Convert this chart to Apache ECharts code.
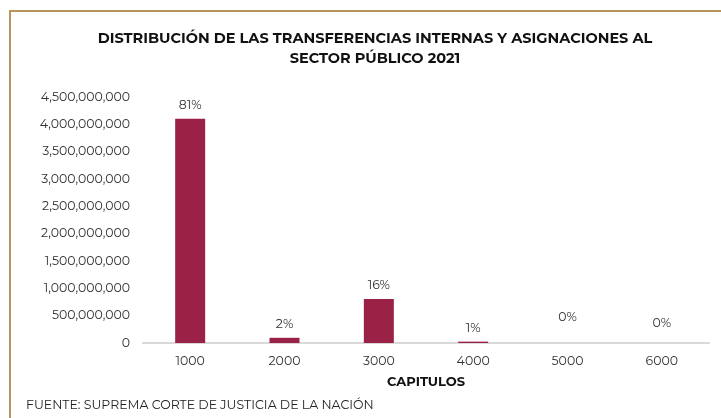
<!DOCTYPE html>
<html>
<head>
<meta charset="utf-8">
<script src="https://cdn.jsdelivr.net/npm/echarts@6/dist/echarts.min.js"></script>
<style>
  html, body { margin: 0; padding: 0; background: #fff; }
  #frame {
    position: absolute; left: 9px; top: 10px; width: 712px; height: 408px;
    border-top: 2px solid #b8955c; border-left: 2px solid #b8955c;
  }
  #chart { position: absolute; left: 0; top: 0; width: 721px; height: 418px; }
</style>
</head>
<body>
<div id="frame"></div>
<div id="chart"></div>
<script>
const capitulos = ['1000', '2000', '3000', '4000', '5000', '6000']
const montos = [4100000000, 95000000, 805000000, 25000000, 0, 0]
const porcentajes = ['81%', '2%', '16%', '1%', '0%', '0%']

const font = 'Montserrat, "Open Sans", sans-serif'
// the last two labels sit a bit higher in the original
const labelShift = [0, 0, 0, 0, -12, -6]

const chart = echarts.init(document.getElementById('chart'))
chart.setOption({
  animation: false,
  title: {
    text: 'DISTRIBUCIÓN DE LAS TRANSFERENCIAS INTERNAS Y ASIGNACIONES AL\nSECTOR PÚBLICO 2021',
    left: 370,
    top: 24,
    textAlign: 'center',
    textStyle: { fontFamily: font, fontSize: 14.5, fontWeight: 'bold', color: '#111', lineHeight: 20 }
  },
  graphic: [{
    type: 'text',
    left: 26,
    top: 399,
    style: { text: 'FUENTE: SUPREMA CORTE DE JUSTICIA DE LA NACIÓN', fontFamily: font, fontSize: 12.5, fill: '#222' }
  }],
  grid: { left: 143, right: 12, top: 97, bottom: 75 },
  xAxis: {
    type: 'category',
    data: capitulos,
    name: 'CAPITULOS',
    nameLocation: 'middle',
    nameGap: 33,
    nameTextStyle: { fontFamily: font, fontSize: 13, fontWeight: 'bold', color: '#111' },
    axisLine: { lineStyle: { color: '#d9d9d9', width: 2 } },
    axisTick: { show: false },
    axisLabel: { fontFamily: font, fontSize: 12.5, color: '#333', margin: 12 }
  },
  yAxis: {
    type: 'value',
    min: 0,
    max: 4500000000,
    interval: 500000000,
    splitLine: { show: false },
    axisLine: { show: false },
    axisTick: { show: false },
    axisLabel: {
      fontFamily: font, fontSize: 12.5, color: '#333', margin: 13,
      formatter: v => v.toLocaleString('en-US')
    }
  },
  series: [{
    type: 'bar',
    barWidth: 30,
    itemStyle: { color: '#9b2247' },
    data: montos.map((v, i) => ({
      value: v,
      label: { offset: [0, labelShift[i]] }
    })),
    label: {
      show: true,
      position: 'top',
      distance: 7,
      fontFamily: font,
      fontSize: 12.5,
      color: '#333',
      formatter: p => porcentajes[p.dataIndex]
    }
  }]
})
</script>
</body>
</html>
